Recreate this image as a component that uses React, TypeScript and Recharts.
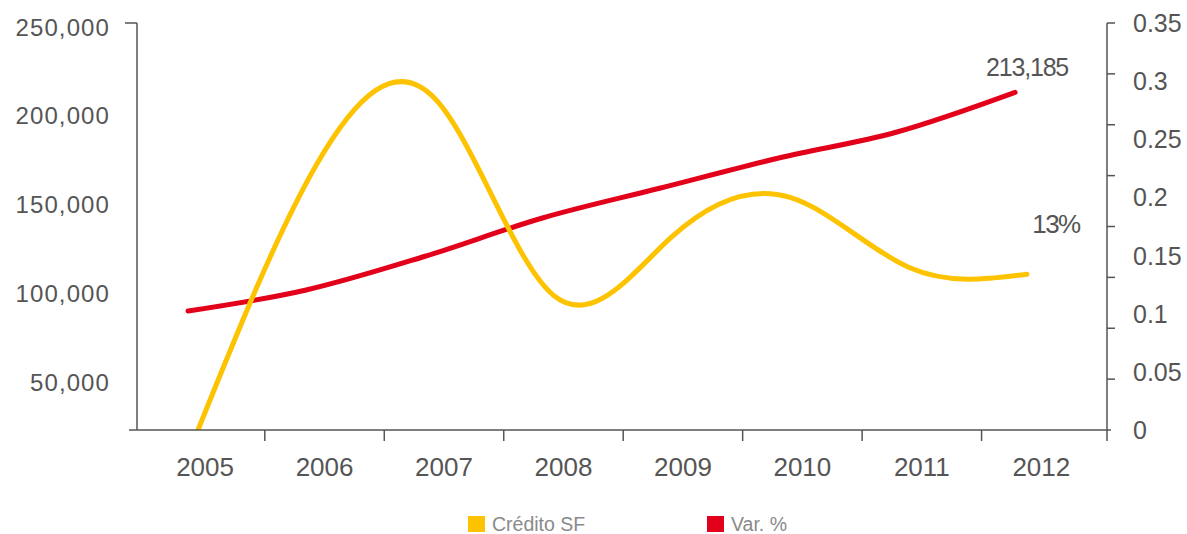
import { LineChart, Line, XAxis, YAxis, Legend } from "recharts";

const YEARS = [2005, 2006, 2007, 2008, 2009, 2010, 2011, 2012];
// yellow series, right axis (share)
const CREDITO_SF = [0, 0.228, 0.285, 0.116, 0.166, 0.2, 0.14, 0.134];
// red series, left axis (amount)
const VAR_PCT = [90000, 101830, 120700, 142400, 159300, 176200, 190850, 213185];

const LEFT_TICKS = [50000, 100000, 150000, 200000, 250000];
const LEFT_MIN = 22958;
const LEFT_MAX = 252254;
const PCT_LABELS = [0, 0.05, 0.1, 0.15, 0.2, 0.25, 0.3, 0.35];
const PCT_MAX = 0.35;
const PCT_MARKS = Array.from({ length: 9 }, (_, i) => (PCT_MAX * i) / 8);

const YELLOW = "#FDC300";
const RED = "#E2001A";
const AXIS = "#555555";
const TEXT = "#555555";
const FONT = "'Liberation Sans', Arial, Helvetica, sans-serif";

const rows = YEARS.map((year, i) => ({ year, credito: CREDITO_SF[i], variacion: VAR_PCT[i] }));

const near = (a: number, b: number) => Math.abs(a - b) < 1e-9;
// year labels sit in the middle of each band, tick marks on the boundaries between them
const BAND_TICKS = YEARS.flatMap((y, i) => (i === 0 ? [y] : [y - 0.5, y]));
const PCT_TICKS = [...PCT_LABELS, ...PCT_MARKS.filter((m) => !PCT_LABELS.some((l) => near(l, m)))].sort((a, b) => a - b);

function YearTick(props: any) {
    const { x, y, payload } = props;
    const v = payload.value as number;
    if (!Number.isInteger(v)) {
        return <line x1={x} x2={x} y1={y} y2={y + 11} stroke={AXIS} strokeWidth={1.5} />;
    }
    return (
        <text x={x} y={y + 46} textAnchor="middle" fontSize={26} fontFamily={FONT} fill={TEXT}>
            {v}
        </text>
    );
}

function AmountTick(props: any) {
    const { x, y, payload } = props;
    const v = payload.value as number;
    if (v === LEFT_MIN) return <line x1={x - 8} x2={x} y1={y} y2={y} stroke={AXIS} strokeWidth={1.5} />;
    if (v === LEFT_MAX) return <line x1={x - 12} x2={x} y1={y} y2={y} stroke={AXIS} strokeWidth={1.5} />;
    return (
        <text x={x - 27} y={y + 8.5} textAnchor="end" fontSize={24} letterSpacing={1.1} fontFamily={FONT} fill={TEXT}>
            {v.toLocaleString("en-US")}
        </text>
    );
}

function PctTick(props: any) {
    const { x, y, payload } = props;
    const v = payload.value as number;
    const isLabel = PCT_LABELS.some((l) => near(l, v));
    const isMark = PCT_MARKS.some((m) => near(m, v));
    return (
        <g>
            {v === 0 ? (
                <>
                    <line x1={x} x2={x + 4} y1={y} y2={y} stroke={AXIS} strokeWidth={1.5} />
                    <line x1={x} x2={x} y1={y} y2={y + 11} stroke={AXIS} strokeWidth={1.5} />
                </>
            ) : isMark ? (
                <line x1={x} x2={x + 8} y1={y} y2={y} stroke={AXIS} strokeWidth={1.5} />
            ) : null}
            {isLabel && (
                <text x={x + 26} y={y + 9} fontSize={25} fontFamily={FONT} fill={TEXT}>
                    {Number(v.toFixed(2)).toString()}
                </text>
            )}
        </g>
    );
}

function AmountLabel(props: any) {
    const { x, y, value, index } = props;
    if (index !== VAR_PCT.length - 1) return null;
    return (
        <text x={x + 12} y={y - 16} textAnchor="middle" fontSize={25} letterSpacing={-1.2} fontFamily={FONT} fill={TEXT}>
            {Number(value).toLocaleString("en-US")}
        </text>
    );
}

function ShareLabel(props: any) {
    const { x, y, value, index } = props;
    if (index !== CREDITO_SF.length - 1) return null;
    return (
        <text x={x + 29} y={y - 41} textAnchor="middle" fontSize={26} letterSpacing={-1.5} fontFamily={FONT} fill={TEXT}>
            {`${Math.round(Number(value) * 100)}%`}
        </text>
    );
}

const LEGEND_ITEMS = [
    { name: "Crédito SF", color: YELLOW },
    { name: "Var. %", color: RED },
];

function LegendBox() {
    return (
        <div style={{ display: "flex", alignItems: "center", height: 20, fontFamily: FONT, fontSize: 19.5, color: "#8a8a8a" }}>
            {LEGEND_ITEMS.map((s, i) => (
                <div key={s.name} style={{ display: "flex", alignItems: "center", width: i === 0 ? 239 : "auto" }}>
                    <span style={{ display: "inline-block", width: 17, height: 16, background: s.color, marginRight: 7 }} />
                    <span>{s.name}</span>
                </div>
            ))}
        </div>
    );
}

export default function App() {
    return (
        <div style={{ width: 1187, height: 534, background: "#fff" }}>
            <style>{"body{margin:0}"}</style>
            <LineChart width={1187} height={534} data={rows} margin={{ top: 23, right: 0, bottom: 0, left: 0 }}>
                <XAxis
                    xAxisId="band"
                    type="number"
                    dataKey="year"
                    domain={[2004.43, 2012.55]}
                    ticks={BAND_TICKS}
                    interval={0}
                    allowDataOverflow
                    tickSize={0}
                    tickMargin={0}
                    tickLine={false}
                    axisLine={{ stroke: AXIS, strokeWidth: 1.5 }}
                    tick={YearTick}
                    height={84}
                />
                <XAxis xAxisId="red" type="number" dataKey="year" domain={[2004.568, 2012.778]} allowDataOverflow hide />
                <XAxis xAxisId="gold" type="number" dataKey="year" domain={[2004.485, 2012.676]} allowDataOverflow hide />
                <YAxis
                    yAxisId="left"
                    type="number"
                    domain={[LEFT_MIN, LEFT_MAX]}
                    ticks={[LEFT_MIN, ...LEFT_TICKS, LEFT_MAX]}
                    interval={0}
                    allowDataOverflow
                    width={137}
                    tickSize={0}
                    tickMargin={0}
                    tickLine={false}
                    axisLine={{ stroke: AXIS, strokeWidth: 1.5 }}
                    tick={AmountTick}
                />
                <YAxis
                    yAxisId="right"
                    orientation="right"
                    type="number"
                    domain={[0, PCT_MAX]}
                    ticks={PCT_TICKS}
                    interval={0}
                    allowDataOverflow
                    width={80}
                    tickSize={0}
                    tickMargin={0}
                    tickLine={false}
                    axisLine={{ stroke: AXIS, strokeWidth: 1.5 }}
                    tick={PctTick}
                />
                <Legend verticalAlign="bottom" content={LegendBox} wrapperStyle={{ left: 468, top: 514, width: 400 }} />
                <Line
                    xAxisId="red"
                    yAxisId="left"
                    dataKey="variacion"
                    name="Var. %"
                    type="monotone"
                    stroke={RED}
                    strokeWidth={5}
                    strokeLinecap="round"
                    dot={false}
                    activeDot={false}
                    label={AmountLabel}
                    isAnimationActive={false}
                />
                <Line
                    xAxisId="gold"
                    yAxisId="right"
                    dataKey="credito"
                    name="Crédito SF"
                    type="natural"
                    stroke={YELLOW}
                    strokeWidth={5}
                    strokeLinecap="round"
                    dot={false}
                    activeDot={false}
                    label={ShareLabel}
                    isAnimationActive={false}
                />
            </LineChart>
        </div>
    );
}
